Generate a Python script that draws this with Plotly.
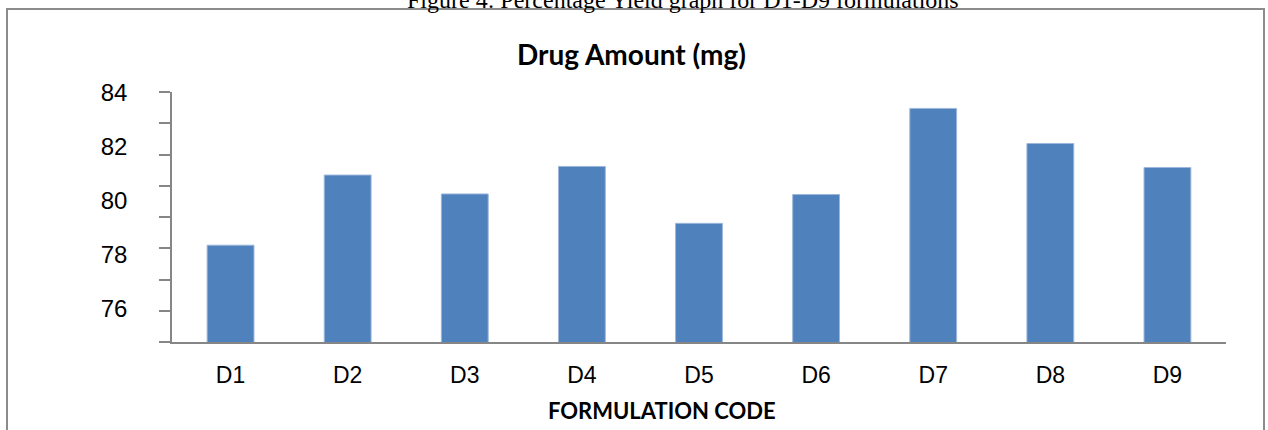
import numpy as np
import plotly.graph_objects as go

# Formulation codes and measured drug amount (mg)
codes = ["D1", "D2", "D3", "D4", "D5", "D6", "D7", "D8", "D9"]
drug_amount = [78.36, 80.96, 80.26, 81.28, 79.17, 80.24, 83.43, 82.13, 81.24]
y_labels = [76, 78, 80, 82, 84]

W, H = 1268, 430
L, R, T, B = 172, 42, 92, 88
PW, PH = W - L - R, H - T - B
Y_LO, Y_HI = 74.77, 84.04


def px(x):
    return (x - L) / PW


def py(y):
    return 1 - (y - T) / PH


fig = go.Figure(
    go.Bar(
        x=codes,
        y=drug_amount,
        marker=dict(color="#4F81BD", line=dict(color="#9DB7DA", width=1)),
        width=0.4,
    )
)

axis_gray = "#868686"
fig.update_layout(
    width=W,
    height=H,
    margin=dict(l=L, r=R, t=T, b=B),
    paper_bgcolor="white",
    plot_bgcolor="white",
    showlegend=False,
    xaxis=dict(
        showline=True,
        linecolor=axis_gray,
        linewidth=1.5,
        ticks="",
        showgrid=False,
        tickfont=dict(family="Liberation Sans", size=23, color="black"),
        ticklabelstandoff=12,
        range=[-0.5, 8.5],
    ),
    yaxis=dict(
        range=[Y_LO, Y_HI],
        showline=True,
        linecolor=axis_gray,
        linewidth=1.5,
        showgrid=False,
        ticks="",
        tickvals=y_labels,
        ticktext=[str(v) for v in y_labels],
        tickfont=dict(family="Liberation Sans", size=24, color="black"),
        ticklabelstandoff=38,
        minor=dict(
            tickvals=list(np.linspace(Y_LO + 1e-6, Y_HI - 1e-6, 9)),
            ticks="outside",
            ticklen=11,
            tickcolor=axis_gray,
            tickwidth=1.5,
            showgrid=False,
        ),
    ),
    shapes=[
        dict(
            type="rect",
            xref="paper",
            yref="paper",
            x0=px(7),
            x1=px(1264),
            y0=py(440),
            y1=py(9),
            line=dict(color="#8C8C8C", width=2),
            fillcolor="rgba(0,0,0,0)",
            layer="below",
        )
    ],
    annotations=[
        dict(
            text="Figure 4: Percentage Yield graph for D1-D9 formulations",
            xref="paper",
            yref="paper",
            x=px(683),
            y=py(15),
            xanchor="center",
            yanchor="bottom",
            showarrow=False,
            font=dict(family="Liberation Serif", size=24, color="black"),
        ),
        dict(
            text="<b>Drug Amount (mg)</b>",
            xref="paper",
            yref="paper",
            x=px(631),
            y=py(54),
            xanchor="center",
            yanchor="middle",
            showarrow=False,
            font=dict(family="Lato", size=28, color="black"),
        ),
        dict(
            text="<b>FORMULATION CODE</b>",
            xref="paper",
            yref="paper",
            x=px(662),
            y=py(410),
            xanchor="center",
            yanchor="middle",
            showarrow=False,
            font=dict(family="Lato", size=22, color="black"),
        ),
    ],
)

fig.write_html("out.html")
